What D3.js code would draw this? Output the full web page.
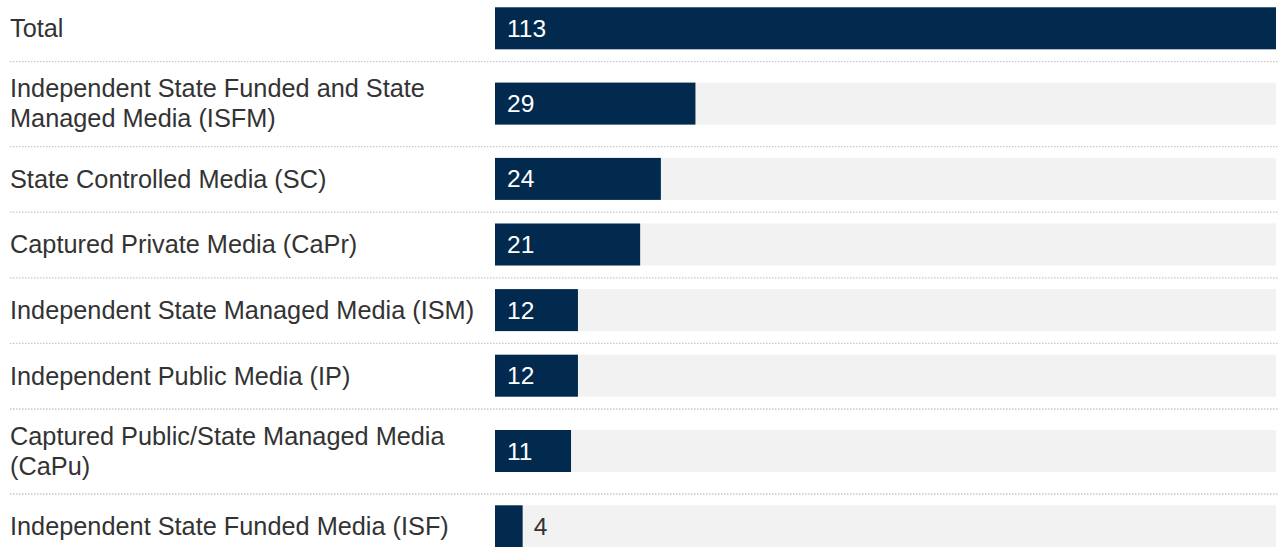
<!DOCTYPE html>
<html>
<head>
<meta charset="utf-8">
<script src="https://cdn.jsdelivr.net/npm/d3@7/dist/d3.min.js"></script>
<style>
  html, body { margin: 0; padding: 0; background: #fff; }
  svg { display: block; }
  text { font-family: "Liberation Sans", Arial, sans-serif; }
</style>
</head>
<body>
<svg id="chart" width="1278" height="547"></svg>
<script>
// Media outlets by category
const categories = [
  "Total",
  "Independent State Funded and State Managed Media (ISFM)",
  "State Controlled Media (SC)",
  "Captured Private Media (CaPr)",
  "Independent State Managed Media (ISM)",
  "Independent Public Media (IP)",
  "Captured Public/State Managed Media (CaPu)",
  "Independent State Funded Media (ISF)"
];
const counts = [113, 29, 24, 21, 12, 12, 11, 4];

const width = 1278;
const labelX = 10;
const labelMaxWidth = 478;
const barLeft = 495, barRight = 1276;
const barH = 42;
const fontSize = 25.3;
const valueFontSize = 24.5;
const lineHeight = 30;
const rowPad1 = 11.8;   // vertical padding for single-line rows
const rowPad2 = 21.5;   // vertical padding for two-line rows
const navy = "#012a4e";

const svg = d3.select("#chart");

const x = d3.scaleLinear()
  .domain([0, d3.max(counts)])
  .range([barLeft, barRight]);

// Wrap each label to the available width
const measure = svg.append("text").attr("font-size", fontSize).attr("visibility", "hidden");
function wrap(str) {
  const words = str.split(" ");
  const lines = [];
  let cur = "";
  words.forEach(w => {
    const test = cur ? cur + " " + w : w;
    measure.text(test);
    if (measure.node().getComputedTextLength() > labelMaxWidth && cur) {
      lines.push(cur);
      cur = w;
    } else {
      cur = test;
    }
  });
  lines.push(cur);
  return lines;
}
const wrapped = categories.map(wrap);
measure.remove();

// Row layout: heights depend on number of label lines
let yCursor = -4.5;
const rows = categories.map((c, i) => {
  const lines = wrapped[i];
  const pad = lines.length > 1 ? rowPad2 : rowPad1;
  const h = barH + 2 * pad;
  const r = { name: c, value: counts[i], lines, top: yCursor, h, barY: yCursor + pad };
  yCursor += h;
  return r;
});

const g = svg.selectAll("g.row").data(rows).join("g").attr("class", "row");

// Background tracks
g.append("rect")
  .attr("x", x(0))
  .attr("y", d => d.barY)
  .attr("width", x.range()[1] - x(0))
  .attr("height", barH)
  .attr("fill", "#f2f2f2");

// Bars
g.append("rect")
  .attr("x", x(0))
  .attr("y", d => d.barY)
  .attr("width", d => x(d.value) - x(0))
  .attr("height", barH)
  .attr("fill", navy);

// Separators between rows
g.filter((d, i) => i < rows.length - 1)
  .append("line")
  .attr("x1", labelX)
  .attr("x2", width)
  .attr("y1", d => d.top + d.h + 0.5)
  .attr("y2", d => d.top + d.h + 0.5)
  .attr("stroke", "#c8c8c8")
  .attr("stroke-width", 1.3)
  .attr("stroke-dasharray", "1.5,1.5");

// Category labels
g.append("text")
  .attr("font-size", fontSize)
  .attr("fill", "#333")
  .each(function(d) {
    const t = d3.select(this);
    const cy = d.barY + barH / 2;
    const startY = cy - (d.lines.length - 1) * lineHeight / 2;
    d.lines.forEach((ln, j) => {
      t.append("tspan")
        .attr("x", labelX)
        .attr("y", startY + j * lineHeight)
        .attr("dy", "0.35em")
        .text(ln);
    });
  });

// Value labels: inside the bar when it fits, otherwise just past its end
g.append("text")
  .attr("font-size", valueFontSize)
  .attr("dy", "0.35em")
  .attr("y", d => d.barY + barH / 2)
  .attr("x", d => (x(d.value) - x(0) > 50) ? x(0) + 12 : x(d.value) + 11)
  .attr("fill", d => (x(d.value) - x(0) > 50) ? "#fff" : "#333")
  .text(d => d.value);
</script>
</body>
</html>
